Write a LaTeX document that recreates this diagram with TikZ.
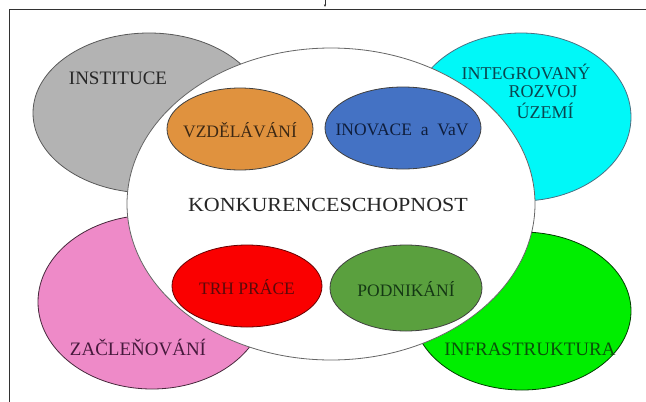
\documentclass[tikz,border=0pt]{standalone}
\usepackage{fontspec}
\setmainfont{Liberation Serif}
\usetikzlibrary{shapes.geometric,arrows.meta}
\definecolor{cgray}{RGB}{179,179,179}
\definecolor{ccyan}{RGB}{0,248,248}
\definecolor{cpink}{RGB}{238,138,200}
\definecolor{cgreen}{RGB}{0,238,0}
\definecolor{corange}{RGB}{224,146,62}
\definecolor{cblue}{RGB}{68,114,196}
\definecolor{cred}{RGB}{250,0,0}
\definecolor{cdgreen}{RGB}{90,160,62}
\definecolor{frame}{RGB}{50,50,50}
\tikzset{
  blob/.style={ellipse, inner sep=0pt, line width=0.8pt},
  outerlbl/.style={inner sep=0pt, font=\fontsize{19}{22}\selectfont},
  cyanlbl/.style={inner sep=0pt, font=\fontsize{18}{20}\selectfont, text={rgb,255:red,10;green,70;blue,80}},
  innerlbl/.style={inner sep=0pt, font=\fontsize{17.5}{20}\selectfont},
}
\begin{document}
\begin{tikzpicture}[x=1pt,y=-1pt]
\useasboundingbox (0,0) rectangle (646,402);
% frame
\coordinate (fl) at (9,402);
\coordinate (fc) at (9,9);
\coordinate (fr) at (646,9);
\draw[frame, line width=0.9pt] (fl) -- (fc) -- (fr);
\coordinate (t1) at (325,0);
\coordinate (t2) at (325,7);
\draw[frame, line width=0.8pt, -{Latex[length=2.5pt,width=2.5pt]}] (t1) -- (t2);
% outer ellipses
\node[blob, fill=cgray, draw=black!65, minimum width=232, minimum height=160] (gray) at (149,113) {};
\node[blob, fill=ccyan, draw=black!55!cyan, minimum width=220, minimum height=168] (cyan) at (521,117) {};
\node[blob, fill=cpink, draw=black!70!cpink, minimum width=228, minimum height=174] (pink) at (152,302) {};
\node[blob, fill=cgreen, draw=black!75!cgreen, minimum width=218, minimum height=158] (green) at (522,311) {};
% central ellipse
\node[blob, fill=white, draw=black!60, minimum width=408, minimum height=312] (center) at (331,204) {};
% inner ellipses
\node[blob, fill=corange, draw=black!75, minimum width=146, minimum height=82] (orange) at (240,129) {};
\node[blob, fill=cblue, draw=black!75, minimum width=156, minimum height=82] (blue) at (403,128) {};
\node[blob, fill=cred, draw=black!60!red, minimum width=150, minimum height=82] (red) at (247,286) {};
\node[blob, fill=cdgreen, draw=black!75, minimum width=152, minimum height=86] (dgreen) at (406,288) {};
% labels
\node[outerlbl, text=black!85] (tinst) at (118,78) {INSTITUCE};
\node[cyanlbl] (tint1) at (526,72) {INTEGROVANÝ};
\node[cyanlbl] (tint2) at (543,92) {ROZVOJ};
\node[cyanlbl] (tint3) at (545,111) {ÚZEMÍ};
\node[outerlbl, text={rgb,255:red,70;green,25;blue,60}] (tzac) at (138,347) {ZAČLEŇOVÁNÍ};
\node[outerlbl, text={rgb,255:red,10;green,80;blue,10}] (tinfra) at (530,349) {INFRASTRUKTURA};
\node[inner sep=0pt, font=\fontsize{20}{22}\selectfont, text=black!85, xscale=1.1] (tkonk) at (328,205) {KONKURENCESCHOPNOST};
\node[innerlbl, text={rgb,255:red,60;green,40;blue,20}] (tvzd) at (240,130) {VZDĚLÁVÁNÍ};
\node[innerlbl, text={rgb,255:red,15;green,30;blue,60}] (tinov) at (402,130) {INOVACE\ \ a\ \ VaV};
\node[innerlbl, text={rgb,255:red,90;green,10;blue,10}] (ttrh) at (247,287) {TRH PRÁCE};
\node[innerlbl, text={rgb,255:red,20;green,55;blue,20}] (tpod) at (406,289) {PODNIKÁNÍ};
\end{tikzpicture}
\end{document}
